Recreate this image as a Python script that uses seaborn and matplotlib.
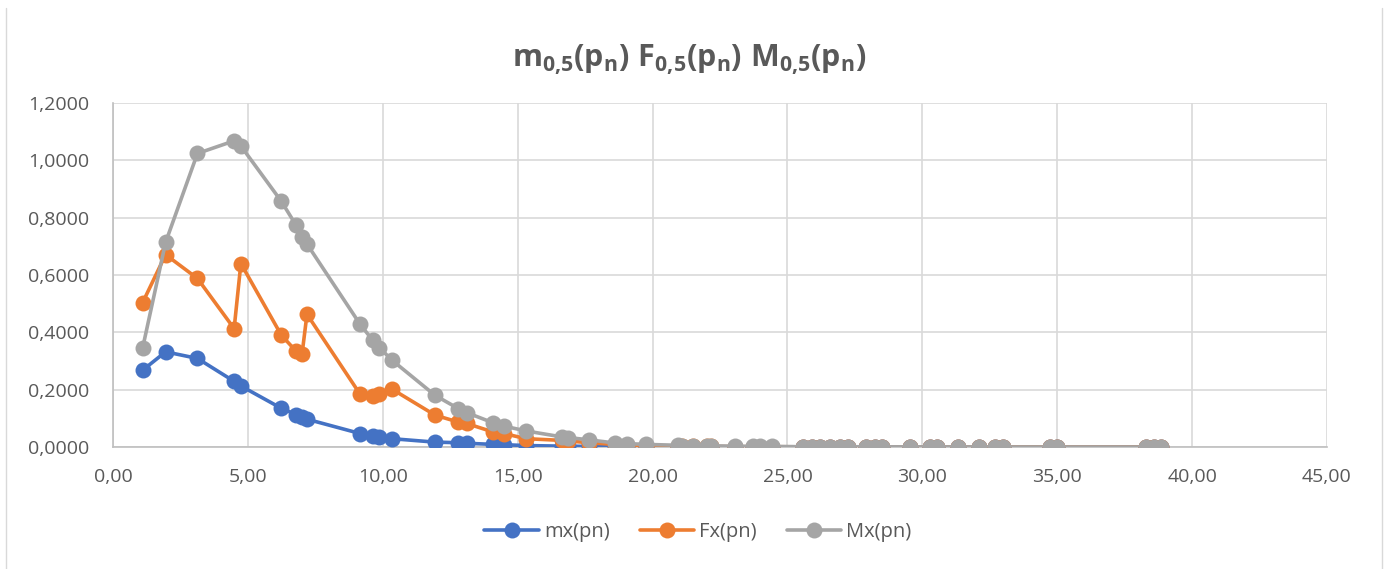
import matplotlib
matplotlib.use("Agg")
import matplotlib.pyplot as plt
from matplotlib.ticker import FuncFormatter, MultipleLocator
from matplotlib.lines import Line2D
import seaborn as sns
import pandas as pd

# ---------------- data ----------------
pn = [1.10, 1.95, 3.13, 4.49, 4.74, 6.24, 6.79, 7.01, 7.19, 9.16, 9.63, 9.87, 10.34,
      11.94, 12.80, 13.11, 14.10, 14.49, 15.31, 16.65, 16.87, 17.64, 18.60, 19.04, 19.75,
      20.95, 21.10, 21.50, 22.00, 22.15, 23.05, 23.73, 23.97, 24.41, 25.58, 25.90, 26.20,
      26.57, 26.94, 27.25, 27.93, 28.23, 28.52, 29.53, 30.27, 30.54, 31.34, 32.10, 32.71,
      32.99, 34.72, 34.98, 38.30, 38.57, 38.85]

mx = [0.268, 0.332, 0.309, 0.229, 0.213, 0.135, 0.113, 0.105, 0.097, 0.047, 0.039, 0.036, 0.029,
      0.017, 0.015, 0.013, 0.009, 0.008, 0.005, 0.003, 0.003, 0.002, 0.001, 0.001, 0.001,
      0.0005, 0.0005, 0.0004, 0.0003, 0.0003, 0.0002, 0.0002, 0.0001, 0.0001, 0.0001, 0.0001, 0.0001,
      0.0, 0.0, 0.0, 0.0, 0.0, 0.0, 0.0, 0.0, 0.0, 0.0, 0.0, 0.0,
      0.0, 0.0, 0.0, 0.0, 0.0, 0.0]

Fx = [0.504, 0.671, 0.588, 0.413, 0.640, 0.390, 0.334, 0.326, 0.463, 0.184, 0.177, 0.186, 0.202,
      0.111, 0.087, 0.082, 0.052, 0.047, 0.029, 0.023, 0.021, 0.015, 0.009, 0.007, 0.005,
      0.003, 0.003, 0.002, 0.002, 0.002, 0.001, 0.001, 0.001, 0.001, 0.0005, 0.0005, 0.0004,
      0.0004, 0.0003, 0.0003, 0.0002, 0.0002, 0.0002, 0.0001, 0.0001, 0.0001, 0.0001, 0.0, 0.0,
      0.0, 0.0, 0.0, 0.0, 0.0, 0.0]

Mx = [0.346, 0.714, 1.024, 1.068, 1.050, 0.857, 0.773, 0.733, 0.708, 0.428, 0.372, 0.347, 0.303,
      0.180, 0.134, 0.120, 0.084, 0.073, 0.056, 0.035, 0.033, 0.025, 0.014, 0.012, 0.009,
      0.006, 0.005, 0.005, 0.004, 0.004, 0.003, 0.002, 0.002, 0.002, 0.001, 0.001, 0.001,
      0.001, 0.001, 0.001, 0.0008, 0.0007, 0.0006, 0.0005, 0.0004, 0.0004, 0.0003, 0.0003, 0.0002,
      0.0002, 0.0001, 0.0001, 0.0001, 0.0001, 0.0001]

series_names = ["mx(pn)", "Fx(pn)", "Mx(pn)"]
colors = ["#4472C4", "#ED7D31", "#A5A5A5"]
title_text = r"$\mathbf{m_{0{,}5}(p_n)\ F_{0{,}5}(p_n)\ M_{0{,}5}(p_n)}$"

# ---------------- style ----------------
sns.set_theme(style="white")
plt.rcParams["font.family"] = ["Open Sans", "DejaVu Sans"]
plt.rcParams["mathtext.fontset"] = "custom"
plt.rcParams["mathtext.rm"] = "Open Sans"
plt.rcParams["mathtext.bf"] = "Open Sans:bold"
plt.rcParams["mathtext.it"] = "Open Sans:italic"

W, H = 1392, 569
fig = plt.figure(figsize=(W / 100, H / 100), dpi=100)
fig.patch.set_facecolor("white")

x0, x1, y0, y1 = 113, 1327, 103, 447
ax = fig.add_axes([x0 / W, 1 - y1 / H, (x1 - x0) / W, (y1 - y0) / H])

df = pd.DataFrame({
    "pn": pn * 3,
    "value": mx + Fx + Mx,
    "series": [series_names[0]] * len(pn) + [series_names[1]] * len(pn) + [series_names[2]] * len(pn),
})

MS = 11.5
LW = 2.6
sns.lineplot(data=df, x="pn", y="value", hue="series", hue_order=series_names,
             palette=colors, marker="o", markersize=MS, markeredgewidth=0,
             linewidth=LW, sort=False, estimator=None, ax=ax, legend=False, zorder=3)

ax.set_xlim(0, 45)
ax.set_ylim(0, 1.2)
ax.xaxis.set_major_locator(MultipleLocator(5))
ax.yaxis.set_major_locator(MultipleLocator(0.2))
ax.xaxis.set_major_formatter(FuncFormatter(lambda v, p: f"{v:.2f}".replace(".", ",")))
ax.yaxis.set_major_formatter(FuncFormatter(lambda v, p: f"{v:.4f}".replace(".", ",")))
ax.grid(True, color="#D9D9D9", linewidth=1.2)
ax.set_axisbelow(True)
for s in ["top", "right"]:
    ax.spines[s].set_visible(False)
for s in ["left", "bottom"]:
    ax.spines[s].set_color("#BFBFBF")
    ax.spines[s].set_linewidth(1.2)
ax.tick_params(axis="both", length=0, labelsize=14, labelcolor="#595959")
ax.tick_params(axis="x", pad=15)
ax.tick_params(axis="y", pad=17)
ax.set_xlabel("")
ax.set_ylabel("")

fig.text(689 / W, 1 - 60 / H, title_text, ha="center", va="center",
         fontsize=22, color="#595959")

handles = [Line2D([0], [0], color=c, lw=LW, marker="o", markersize=MS, markeredgewidth=0)
           for c in colors]
fig.legend(handles, series_names, loc="center", bbox_to_anchor=(698 / W, 1 - 532 / H),
           ncol=3, frameon=False, fontsize=14.5, labelcolor="#595959",
           handlelength=2.7, handletextpad=0.25, columnspacing=1.5)

# outer chart border
for xp in (6, 1382):
    fig.add_artist(Line2D([xp / W, xp / W], [0, 1 - 8 / H], color="#D9D9D9", lw=1.0,
                          transform=fig.transFigure))

fig.savefig("out.png", dpi=100)
